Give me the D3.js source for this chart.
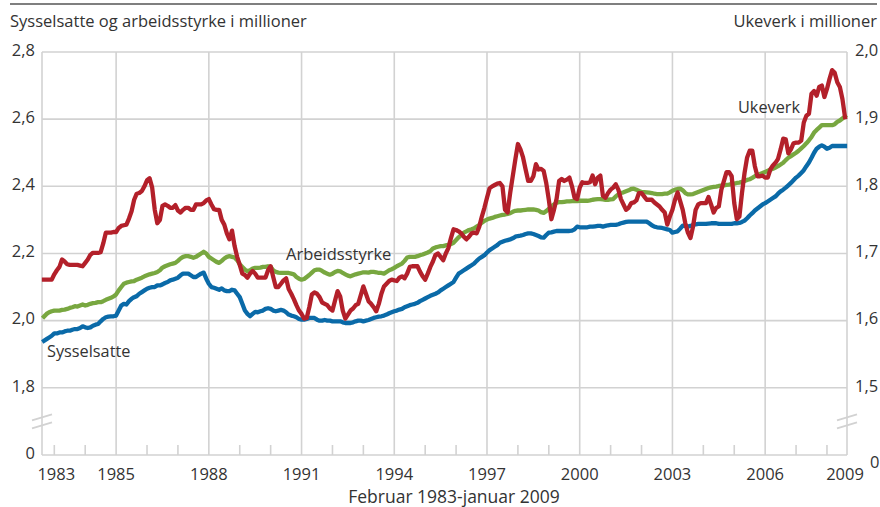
<!DOCTYPE html>
<html><head><meta charset="utf-8">
<script src="https://cdn.jsdelivr.net/npm/d3@7/dist/d3.min.js"></script>
<style>
body{margin:0;background:#fff}
svg{display:block}
text{font-family:"Open Sans",sans-serif;fill:#333}
</style>
</head><body>
<svg id="chart" width="880" height="507"></svg>
<script>
// Monthly observations, February 1983 - January 2009
const firstMonth = {year: 1983, month: 2};
const sysselsatte = [
1.94,1.945,1.95,1.955,1.962,1.962,1.965,1.965,1.968,1.97,1.97,
1.973,1.975,1.975,1.978,1.983,1.98,1.978,1.98,1.985,1.988,1.99,1.998,
2.005,2.01,2.012,2.013,2.013,2.015,2.03,2.045,2.05,2.048,2.058,2.065,
2.07,2.073,2.08,2.085,2.09,2.095,2.098,2.1,2.1,2.105,2.105,2.108,
2.112,2.115,2.12,2.122,2.125,2.128,2.135,2.14,2.14,2.14,2.135,2.13,
2.13,2.135,2.14,2.143,2.125,2.11,2.1,2.098,2.095,2.092,2.096,2.09,
2.088,2.088,2.092,2.09,2.08,2.07,2.05,2.03,2.02,2.013,2.02,2.026,
2.025,2.028,2.03,2.035,2.037,2.035,2.03,2.028,2.03,2.032,2.03,2.025,
2.018,2.015,2.013,2.01,2.005,2.003,2.003,2.005,2.008,2.008,2.008,2.003,
2.0,2.0,2.002,2.0,2.0,1.998,1.998,1.998,1.998,1.995,1.993,1.993,
1.993,1.995,1.998,2.0,2.0,1.998,2.0,2.002,2.005,2.008,2.01,2.012,
2.013,2.015,2.018,2.022,2.025,2.028,2.03,2.033,2.035,2.04,2.043,2.046,
2.048,2.05,2.053,2.058,2.062,2.066,2.07,2.074,2.077,2.08,2.084,2.09,
2.095,2.1,2.105,2.11,2.115,2.128,2.14,2.145,2.15,2.155,2.16,2.165,
2.17,2.178,2.185,2.19,2.195,2.203,2.21,2.215,2.22,2.225,2.232,2.235,
2.238,2.24,2.242,2.245,2.25,2.252,2.253,2.255,2.258,2.26,2.26,2.258,
2.255,2.252,2.248,2.247,2.255,2.262,2.263,2.265,2.267,2.267,2.267,2.267,
2.267,2.267,2.268,2.272,2.28,2.278,2.278,2.278,2.278,2.28,2.28,2.281,
2.282,2.282,2.28,2.282,2.284,2.285,2.285,2.285,2.287,2.29,2.292,2.294,
2.295,2.295,2.295,2.295,2.295,2.295,2.295,2.295,2.29,2.284,2.28,2.278,
2.277,2.276,2.274,2.272,2.27,2.262,2.264,2.266,2.274,2.283,2.282,2.28,
2.282,2.285,2.287,2.288,2.288,2.288,2.288,2.289,2.29,2.29,2.29,2.288,
2.288,2.288,2.288,2.288,2.288,2.29,2.29,2.291,2.294,2.298,2.305,2.313,
2.32,2.328,2.334,2.34,2.346,2.35,2.355,2.36,2.365,2.37,2.378,2.385,
2.39,2.396,2.403,2.41,2.418,2.426,2.432,2.44,2.448,2.46,2.471,2.485,
2.5,2.512,2.518,2.522,2.518,2.512,2.515,2.52,2.52,2.52,2.52,2.52,
2.52];
const arbeidsstyrke = [
2.012,2.02,2.025,2.028,2.03,2.03,2.03,2.032,2.033,2.035,2.038,
2.04,2.043,2.042,2.045,2.048,2.045,2.047,2.05,2.052,2.053,2.055,2.055,
2.058,2.062,2.065,2.068,2.072,2.078,2.09,2.1,2.11,2.113,2.115,2.117,
2.118,2.122,2.125,2.128,2.132,2.135,2.138,2.14,2.142,2.145,2.15,2.158,
2.162,2.165,2.168,2.17,2.172,2.178,2.185,2.19,2.192,2.192,2.19,2.187,
2.19,2.195,2.2,2.205,2.2,2.19,2.185,2.18,2.175,2.172,2.178,2.185,
2.19,2.192,2.19,2.188,2.18,2.168,2.16,2.152,2.147,2.15,2.155,2.157,
2.157,2.158,2.16,2.16,2.162,2.16,2.15,2.145,2.143,2.142,2.142,2.142,
2.142,2.14,2.138,2.13,2.125,2.122,2.124,2.13,2.136,2.143,2.15,2.152,
2.152,2.148,2.143,2.14,2.137,2.14,2.145,2.148,2.147,2.142,2.138,2.134,
2.132,2.135,2.138,2.14,2.142,2.144,2.144,2.143,2.145,2.145,2.144,2.142,
2.142,2.14,2.145,2.15,2.153,2.157,2.162,2.166,2.17,2.178,2.188,2.19,
2.19,2.19,2.192,2.195,2.197,2.2,2.203,2.207,2.215,2.218,2.22,2.222,
2.222,2.224,2.226,2.228,2.232,2.24,2.248,2.255,2.262,2.266,2.27,2.272,
2.275,2.28,2.285,2.292,2.297,2.301,2.304,2.306,2.309,2.311,2.313,2.315,
2.316,2.318,2.32,2.324,2.327,2.328,2.328,2.329,2.33,2.331,2.331,2.331,
2.33,2.328,2.323,2.321,2.326,2.333,2.34,2.346,2.351,2.353,2.353,2.354,
2.355,2.355,2.356,2.356,2.356,2.357,2.357,2.357,2.357,2.358,2.36,2.361,
2.362,2.362,2.361,2.36,2.36,2.361,2.362,2.37,2.376,2.38,2.382,2.385,
2.388,2.392,2.393,2.39,2.386,2.383,2.383,2.382,2.381,2.38,2.378,2.377,
2.377,2.377,2.378,2.378,2.382,2.387,2.39,2.392,2.393,2.388,2.38,2.376,
2.376,2.377,2.38,2.383,2.386,2.389,2.392,2.395,2.397,2.398,2.399,2.401,
2.402,2.403,2.404,2.405,2.407,2.408,2.41,2.411,2.413,2.416,2.419,2.421,
2.425,2.43,2.434,2.437,2.44,2.443,2.446,2.449,2.452,2.456,2.46,2.465,
2.47,2.478,2.485,2.49,2.495,2.5,2.506,2.513,2.52,2.528,2.537,2.547,
2.56,2.568,2.575,2.582,2.582,2.582,2.582,2.582,2.585,2.592,2.596,2.602,
2.608];
const ukeverk = [
1.661,1.661,1.661,1.661,1.669,1.675,1.68,1.691,1.688,1.684,1.683,
1.683,1.683,1.683,1.682,1.681,1.686,1.691,1.698,1.701,1.701,1.701,1.702,
1.715,1.731,1.731,1.731,1.732,1.732,1.738,1.741,1.742,1.743,1.752,1.763,
1.78,1.789,1.79,1.793,1.8,1.809,1.812,1.798,1.765,1.745,1.75,1.771,
1.773,1.771,1.768,1.768,1.772,1.764,1.761,1.765,1.768,1.768,1.765,1.765,
1.773,1.773,1.773,1.775,1.779,1.781,1.773,1.766,1.765,1.765,1.75,1.743,
1.73,1.721,1.734,1.711,1.695,1.683,1.67,1.668,1.664,1.67,1.674,1.67,
1.664,1.664,1.664,1.664,1.675,1.681,1.665,1.65,1.65,1.655,1.66,1.663,
1.647,1.64,1.632,1.623,1.615,1.61,1.603,1.604,1.62,1.639,1.642,1.64,
1.635,1.627,1.625,1.623,1.618,1.615,1.63,1.644,1.636,1.615,1.603,1.609,
1.615,1.618,1.623,1.625,1.638,1.651,1.64,1.629,1.625,1.62,1.614,1.625,
1.64,1.651,1.655,1.659,1.661,1.66,1.659,1.664,1.666,1.663,1.67,1.68,
1.681,1.681,1.681,1.673,1.666,1.661,1.67,1.68,1.688,1.698,1.7,1.695,
1.69,1.7,1.708,1.723,1.736,1.735,1.733,1.73,1.725,1.721,1.725,1.73,
1.731,1.73,1.74,1.755,1.768,1.783,1.797,1.8,1.802,1.804,1.805,1.8,
1.765,1.761,1.79,1.815,1.84,1.863,1.855,1.843,1.825,1.808,1.808,1.815,
1.833,1.825,1.826,1.823,1.805,1.78,1.751,1.765,1.781,1.808,1.811,1.808,
1.81,1.813,1.8,1.783,1.781,1.798,1.806,1.805,1.805,1.806,1.816,1.803,
1.813,1.816,1.786,1.783,1.79,1.795,1.798,1.803,1.795,1.781,1.773,1.765,
1.768,1.775,1.776,1.779,1.79,1.79,1.785,1.78,1.78,1.78,1.776,1.773,
1.77,1.765,1.761,1.743,1.755,1.765,1.78,1.791,1.778,1.765,1.745,1.731,
1.723,1.74,1.765,1.773,1.775,1.775,1.775,1.784,1.773,1.761,1.768,1.77,
1.795,1.808,1.821,1.821,1.815,1.775,1.751,1.755,1.79,1.82,1.843,1.853,
1.853,1.83,1.815,1.815,1.816,1.813,1.813,1.825,1.831,1.835,1.841,1.855,
1.871,1.87,1.849,1.855,1.864,1.865,1.865,1.868,1.895,1.905,1.908,1.938,
1.942,1.935,1.948,1.95,1.933,1.945,1.96,1.973,1.969,1.955,1.948,1.93,
1.903];

const tickYears = [1983,1984,1985,1986,1987,1988,1989,1990,1991,1992,1993,1994,1995,1996,1997,1998,1999,2000,2001,2002,2003,2004,2005,2006,2007,2008];
const gridYears = [1985,1988,1991,1994,1997,2000,2003,2006];
const labelYears = [1983,1985,1988,1991,1994,1997,2000,2003,2006,2009];
const leftTicks = [0,1.8,2.0,2.2,2.4,2.6,2.8];
const rightTicks = [0,1.5,1.6,1.7,1.8,1.9,2.0];
const titles = {
  left: "Sysselsatte og arbeidsstyrke i millioner",
  right: "Ukeverk i millioner",
  bottom: "Februar 1983-januar 2009"
};
const seriesNames = ["Sysselsatte","Arbeidsstyrke","Ukeverk"];
const colors = {blue:"#0a6aa8", green:"#78a740", red:"#b3202a", grid:"#d2d2d2", text:"#333"};

const svg = d3.select("#chart");
const L = 42, R = 847, T = 52, B = 455, BR = 387.8;
const nMonths = sysselsatte.length;

// month index -> x
const x = d3.scaleLinear().domain([0, nMonths-1]).range([L+2, R-2]);
const monthIndexOfYear = y => (y - firstMonth.year)*12 + (6 - firstMonth.month);  // June of year
const yearX = y => y === 2009 ? x(nMonths-1) : x(monthIndexOfYear(y));

const yL = d3.scaleLinear().domain([0,1.8,2.8]).range([B,BR,T]);
const yR = d3.scaleLinear().domain([0,1.5,2.0]).range([B,BR,T]);

const fmt = v => v === 0 ? "0" : d3.format(".1f")(v).replace(".", ",");

// top rule
svg.append("line").attr("x1",10).attr("x2",877).attr("y1",4).attr("y2",4)
  .attr("stroke","#555").attr("stroke-width",1.5);

// titles
svg.append("text").attr("x",10).attr("y",27).attr("font-size",16.5).text(titles.left);
svg.append("text").attr("x",877).attr("y",27).attr("font-size",16.5).attr("text-anchor","end").text(titles.right);
svg.append("text").attr("x",454).attr("y",503).attr("font-size",17.5).attr("text-anchor","middle").text(titles.bottom);

const g = svg.append("g");
// horizontal grid
g.selectAll("line.h").data(leftTicks).join("line")
  .attr("x1",L).attr("x2",R).attr("y1",d=>yL(d)).attr("y2",d=>yL(d))
  .attr("stroke",colors.grid).attr("stroke-width",1.6);
// vertical grid + frame
g.selectAll("line.v").data(gridYears).join("line")
  .attr("x1",d=>yearX(d)).attr("x2",d=>yearX(d)).attr("y1",T).attr("y2",B)
  .attr("stroke",colors.grid).attr("stroke-width",1.6);
[L,R].forEach(xx => g.append("line").attr("x1",xx).attr("x2",xx).attr("y1",T).attr("y2",B)
  .attr("stroke",colors.grid).attr("stroke-width",1.6));
// minor ticks
g.selectAll("line.t").data(tickYears.filter(y=>!gridYears.includes(y))).join("line")
  .attr("x1",d=>yearX(d)).attr("x2",d=>yearX(d)).attr("y1",B).attr("y2",B-10)
  .attr("stroke",colors.grid).attr("stroke-width",1.6);
// axis break marks
const bm = (B+BR)/2;
[L,R].forEach(xx => {
  [-1,7].forEach(off => g.append("line")
    .attr("x1",xx-10).attr("y1",bm+off).attr("x2",xx+10).attr("y2",bm+off-6)
    .attr("stroke",colors.grid).attr("stroke-width",1.8));
});

// y labels
svg.selectAll("text.yl").data(leftTicks).join("text")
  .attr("x",35).attr("y",d=>yL(d)-2).attr("dy","0.35em").attr("text-anchor","end")
  .attr("font-size",16.5).text(fmt);
svg.selectAll("text.yr").data(rightTicks).join("text")
  .attr("x",d=>d===0?870:855).attr("y",d=>yR(d)-2+(d===0?9:0)).attr("dy","0.35em")
  .attr("font-size",16.5).text(fmt);
// x labels
svg.selectAll("text.xl").data(labelYears).join("text")
  .attr("x",d=>yearX(d)+(d===1983?2:0)).attr("y",480).attr("text-anchor","middle")
  .attr("font-size",16.5).text(d=>d);

// lines
const lineL = d3.line().x((d,i)=>x(i)).y(d=>yL(d));
const lineR = d3.line().x((d,i)=>x(i)).y(d=>yR(d));
const paths = [
  {data:sysselsatte, gen:lineL, color:colors.blue},
  {data:arbeidsstyrke, gen:lineL, color:colors.green},
  {data:ukeverk, gen:lineR, color:colors.red}
];
paths.forEach(p => svg.append("path").attr("d",p.gen(p.data)).attr("fill","none")
  .attr("stroke",p.color).attr("stroke-width",4.3).attr("stroke-linejoin","round").attr("stroke-linecap","square"));

// series labels
svg.append("text").attr("x",47).attr("y",357).attr("font-size",16.3).text(seriesNames[0]);
svg.append("text").attr("x",286).attr("y",260).attr("font-size",16.5).text(seriesNames[1]);
svg.append("text").attr("x",738).attr("y",113).attr("font-size",16.3).text(seriesNames[2]);
</script>
</body></html>
